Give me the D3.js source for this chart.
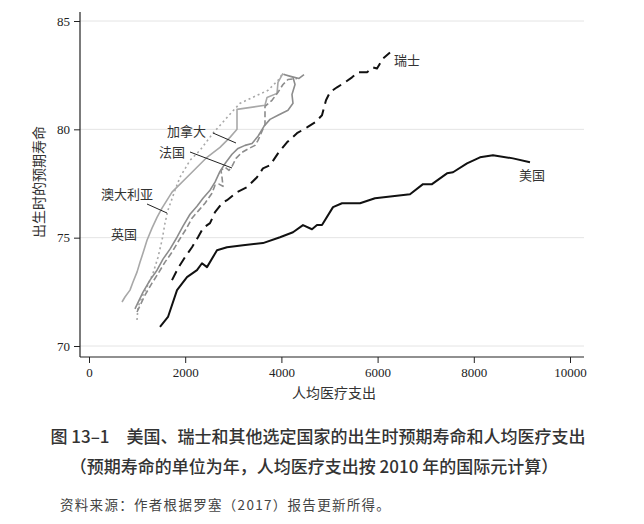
<!DOCTYPE html>
<html>
<head>
<meta charset="utf-8">
<script src="https://cdn.jsdelivr.net/npm/d3@7"></script>
<style>
  body { margin: 0; background: #fff; }
</style>
</head>
<body>
<div id="chart"></div>
<script>
// 人均医疗支出 (x) 与出生时预期寿命 (y)
const usSpend = [1476, 1642, 1830, 2037, 2245, 2349, 2453, 2661, 2869, 3202, 3617, 3971, 4241, 4449, 4636, 4740, 4844, 5073, 5260, 5634, 5946, 6674, 6944, 7131, 7443, 7568, 7859, 8129, 8399, 8815, 9168];
const usLife  = [70.88, 71.34, 72.58, 73.18, 73.50, 73.82, 73.64, 74.42, 74.56, 74.65, 74.75, 75.02, 75.25, 75.58, 75.39, 75.58, 75.58, 76.41, 76.59, 76.59, 76.82, 77.00, 77.47, 77.47, 77.97, 78.02, 78.43, 78.71, 78.80, 78.66, 78.48];

const chSpend = [1726, 1850, 1996, 2141, 2266, 2370, 2516, 2620, 2765, 2869, 3077, 3285, 3493, 3617, 3763, 3929, 4116, 4324, 4532, 4699, 4844, 4927, 5010, 5156, 5322, 5468, 5593, 5780, 5904, 5988, 6112, 6258];
const chLife  = [73.04, 73.59, 74.10, 74.56, 75.02, 75.44, 75.67, 76.18, 76.59, 76.73, 77.10, 77.33, 77.79, 78.20, 78.34, 78.89, 79.40, 79.82, 80.09, 80.32, 80.65, 81.34, 81.71, 81.94, 82.17, 82.40, 82.63, 82.63, 82.86, 82.81, 83.27, 83.55];

const ukSpend = [686, 748, 852, 915, 998, 1060, 1123, 1206, 1310, 1414, 1518, 1622, 1726, 1830, 2037, 2245, 2453, 2723, 2931, 3077, 3077, 3659, 3701, 3909, 3929, 4033];
const ukLife  = [72.03, 72.26, 72.58, 72.95, 73.41, 73.87, 74.29, 74.88, 75.44, 75.94, 76.36, 76.73, 77.10, 77.33, 77.79, 78.25, 78.71, 79.17, 79.63, 80.00, 80.92, 81.11, 81.47, 81.66, 82.17, 82.58];

const auSpend = [998, 1019, 1102, 1206, 1331, 1435, 1518, 1580, 1642, 1788, 1892, 2100, 2307, 2578, 2869, 3139, 3493, 3721, 3929, 4013];
const auLife  = [71.20, 71.80, 72.26, 72.72, 73.36, 74.10, 74.88, 75.67, 76.27, 77.19, 77.79, 78.57, 79.03, 79.82, 80.55, 81.20, 81.57, 81.80, 82.26, 82.53];

const caSpend = [956, 1123, 1268, 1414, 1538, 1684, 1830, 1954, 2100, 2245, 2370, 2516, 2620, 2723, 2848, 2973, 3098, 3243, 3389, 3514, 3638, 3763, 3929, 4137, 4241, 4220, 4283, 4241, 4054, 4366, 4470];
const caLife  = [71.71, 72.49, 73.04, 73.50, 74.01, 74.47, 75.02, 75.53, 76.08, 76.45, 76.82, 77.19, 77.56, 78.06, 78.48, 78.85, 79.12, 79.26, 79.35, 79.68, 80.14, 80.46, 80.65, 80.88, 81.20, 81.61, 82.07, 82.40, 82.53, 82.35, 82.53];

const frSpend = [998, 1164, 1310, 1455, 1580, 1726, 1871, 2017, 2141, 2287, 2412, 2557, 2620, 2703, 2786, 2765, 2744, 2827, 2911, 2973, 3056, 3181, 3327, 3451, 3514, 3597, 3659, 3659, 3805, 3929, 4033, 4137, 4324];
const frLife  = [71.57, 72.35, 72.90, 73.41, 73.87, 74.33, 74.88, 75.39, 75.90, 76.27, 76.59, 77.05, 77.42, 77.47, 77.37, 77.79, 78.11, 78.25, 78.11, 78.29, 78.66, 78.94, 79.12, 79.26, 79.49, 79.91, 80.23, 81.06, 81.34, 81.71, 82.07, 82.30, 82.35];

const xTicks = [0, 2000, 4000, 6000, 8000, 10000];
const yTicks = [70, 75, 80, 85];

const W = 644, H = 524;
const serif = "'Liberation Serif', 'DejaVu Serif', 'Noto Sans CJK SC', serif";
const cjk = "'Noto Sans CJK SC', sans-serif";

const svg = d3.select("#chart").append("svg")
    .attr("width", W)
    .attr("height", H);

const x = d3.scaleLinear().domain([0, 10000]).range([89, 570]);
const y = d3.scaleLinear().domain([70, 85]).range([346, 21]);

// 网格线
svg.append("g").selectAll("line")
    .data(yTicks)
    .join("line")
    .attr("x1", 80).attr("x2", 584)
    .attr("y1", d => y(d)).attr("y2", d => y(d))
    .attr("stroke", "#e4e4e4")
    .attr("stroke-width", 1);

// 坐标轴
const yAxis = svg.append("g")
    .attr("transform", "translate(80,0)")
    .call(d3.axisLeft(y).tickValues(yTicks).tickSize(6).tickPadding(4));
const xAxis = svg.append("g")
    .attr("transform", "translate(0,357)")
    .call(d3.axisBottom(x).tickValues(xTicks).tickSize(6).tickPadding(5).tickFormat(d3.format("d")));
[yAxis, xAxis].forEach(g => {
    g.select(".domain").remove();
    g.selectAll("text").attr("fill", "#222")
        .style("font-family", serif).style("font-size", "13px");
    g.selectAll("line").attr("stroke", "#222");
});
svg.append("line").attr("x1", 80).attr("x2", 80).attr("y1", 12).attr("y2", 357)
    .attr("stroke", "#222").attr("stroke-width", 1.2);
svg.append("line").attr("x1", 80).attr("x2", 584).attr("y1", 357).attr("y2", 357)
    .attr("stroke", "#222").attr("stroke-width", 1.2);

// 折线
const line = d3.line().x(d => x(d[0])).y(d => y(d[1]));
const series = [
    { s: auSpend, l: auLife, color: "#a8a8a8", w: 1.6, dash: "2,3" },
    { s: ukSpend, l: ukLife, color: "#a8a8a8", w: 1.6, dash: null },
    { s: frSpend, l: frLife, color: "#8c8c8c", w: 1.6, dash: "6,3" },
    { s: caSpend, l: caLife, color: "#8c8c8c", w: 1.6, dash: null },
    { s: chSpend, l: chLife, color: "#111", w: 2, dash: "10,6" },
    { s: usSpend, l: usLife, color: "#111", w: 2, dash: null }
];
svg.append("g").selectAll("path")
    .data(series)
    .join("path")
    .attr("d", d => line(d3.zip(d.s, d.l)))
    .attr("fill", "none")
    .attr("stroke", d => d.color)
    .attr("stroke-width", d => d.w)
    .attr("stroke-dasharray", d => d.dash)
    .attr("stroke-linejoin", "round");

// 国家标注
const labels = [
    { t: "瑞士", x: 394, y: 65 },
    { t: "美国", x: 519, y: 180 },
    { t: "加拿大", x: 167, y: 136 },
    { t: "法国", x: 159, y: 157 },
    { t: "澳大利亚", x: 101, y: 199 },
    { t: "英国", x: 111, y: 239 }
];
svg.append("g").selectAll("text")
    .data(labels)
    .join("text")
    .attr("x", d => d.x).attr("y", d => d.y)
    .style("font-family", cjk)
    .style("font-size", "13px")
    .attr("fill", "#333")
    .text(d => d.t);

const leaders = [
    [213, 133, 236, 143],
    [190, 152, 232, 168],
    [147, 204, 167, 213]
];
svg.append("g").selectAll("line")
    .data(leaders)
    .join("line")
    .attr("x1", d => d[0]).attr("y1", d => d[1])
    .attr("x2", d => d[2]).attr("y2", d => d[3])
    .attr("stroke", "#222").attr("stroke-width", 1);

// 轴标题
svg.append("text")
    .attr("transform", "translate(44,182) rotate(-90)")
    .attr("text-anchor", "middle")
    .style("font-family", cjk)
    .style("font-size", "14px")
    .attr("fill", "#333")
    .text("出生时的预期寿命");
svg.append("text")
    .attr("x", 334).attr("y", 398)
    .attr("text-anchor", "middle")
    .style("font-family", cjk)
    .style("font-size", "14px")
    .attr("fill", "#333")
    .text("人均医疗支出");

// 图题
svg.append("text")
    .attr("x", 318).attr("y", 443)
    .attr("text-anchor", "middle")
    .style("font-family", cjk)
    .style("font-size", "17px")
    .style("font-weight", 500)
    .attr("fill", "#333")
    .text("图 13–1　美国、瑞士和其他选定国家的出生时预期寿命和人均医疗支出");
svg.append("text")
    .attr("x", 314).attr("y", 473)
    .attr("text-anchor", "middle")
    .style("font-family", cjk)
    .style("font-size", "17px")
    .style("font-weight", 500)
    .attr("fill", "#333")
    .text("（预期寿命的单位为年，人均医疗支出按 2010 年的国际元计算）");
svg.append("text")
    .attr("x", 60).attr("y", 510)
    .style("font-family", cjk)
    .style("font-size", "13.5px")
    .style("letter-spacing", "1.3px")
    .attr("fill", "#444")
    .text("资料来源：作者根据罗塞（2017）报告更新所得。");
</script>
</body>
</html>
